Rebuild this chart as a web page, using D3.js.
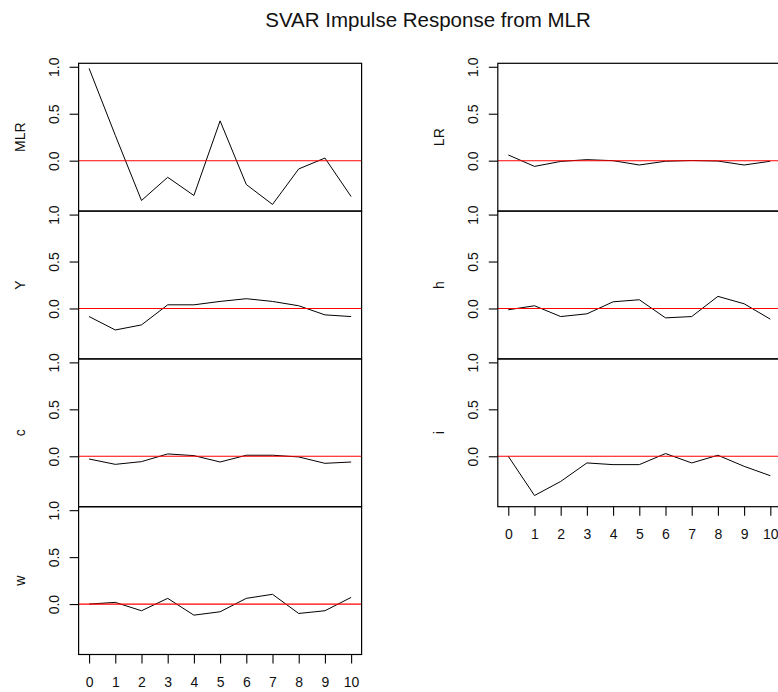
<!DOCTYPE html>
<html>
<head>
<meta charset="utf-8">
<script src="https://cdn.jsdelivr.net/npm/d3@7"></script>
<style>
  html, body { margin: 0; padding: 0; background: #fff; }
  svg { display: block; font-family: "Liberation Sans", Arial, sans-serif; }
</style>
</head>
<body>
<svg id="chart" width="778" height="692"></svg>
<script>
// Impulse horizon (periods after the MLR shock)
const horizon = [0, 1, 2, 3, 4, 5, 6, 7, 8, 9, 10];
const xTicks = [0, 1, 2, 3, 4, 5, 6, 7, 8, 9, 10];
const yTicks = [0, 0.5, 1.0];

// Responses of each variable to a structural MLR shock
const respMLR = [0.983, 0.27, -0.424, -0.177, -0.371, 0.424, -0.254, -0.466, -0.088, 0.028, -0.382];
const respY   = [-0.086, -0.229, -0.175, 0.039, 0.039, 0.075, 0.104, 0.075, 0.029, -0.068, -0.086];
const respC   = [-0.029, -0.086, -0.057, 0.025, 0.007, -0.061, 0.011, 0.011, -0.007, -0.075, -0.061];
const respW   = [0.0, 0.018, -0.071, 0.061, -0.118, -0.082, 0.061, 0.104, -0.1, -0.071, 0.071];
const respLR  = [0.061, -0.061, -0.008, 0.011, 0.0, -0.046, -0.006, 0.002, -0.004, -0.046, -0.006];
const respH   = [-0.014, 0.029, -0.086, -0.057, 0.071, 0.093, -0.1, -0.086, 0.129, 0.05, -0.114];
const respI   = [0.0, -0.418, -0.268, -0.071, -0.089, -0.089, 0.029, -0.071, 0.011, -0.107, -0.207];

const title = "SVAR Impulse Response from MLR";
const leftNames = ["MLR", "Y", "c", "w"];
const leftSeries = [respMLR, respY, respC, respW];
const rightNames = ["LR", "h", "i"];
const rightSeries = [respLR, respH, respI];

const svg = d3.select("#chart");

// layout of the panel grid
const panelTop = 63.3;
const panelH = 147.8;
const panelW = 283;
const colLeft = [78.6, 497.8];
const yDomain = [-0.537, 1.037];
const textColor = "#111";

svg.append("text")
  .attr("x", 428)
  .attr("y", 26.5)
  .attr("text-anchor", "middle")
  .attr("font-size", "20.5px")
  .attr("fill", textColor)
  .text(title);

function drawColumn(colIdx, names, series) {
  const x0 = colLeft[colIdx];
  const x = d3.scaleLinear().domain([-0.4, 10.4]).range([x0, x0 + panelW]);

  names.forEach((name, k) => {
    const top = panelTop + k * panelH;
    const y = d3.scaleLinear().domain(yDomain).range([top + panelH, top]);
    const g = svg.append("g");

    // response path
    const line = d3.line().x((d, i) => x(horizon[i])).y(d => y(d));
    g.append("path")
      .datum(series[k])
      .attr("d", line)
      .attr("fill", "none")
      .attr("stroke", "#000")
      .attr("stroke-width", 1);

    // zero reference line
    g.append("line")
      .attr("x1", x.range()[0]).attr("x2", x.range()[1])
      .attr("y1", y(0)).attr("y2", y(0))
      .attr("stroke", "#ff0000")
      .attr("stroke-width", 1.1);

    // panel box
    g.append("rect")
      .attr("x", x.range()[0]).attr("y", top)
      .attr("width", panelW).attr("height", panelH)
      .attr("fill", "none")
      .attr("stroke", "#000")
      .attr("stroke-width", 1.2);

    // y axis with rotated labels
    const ya = g.append("g")
      .attr("transform", `translate(${x0},0)`)
      .call(d3.axisLeft(y).tickValues(yTicks).tickSize(9).tickSizeOuter(0)
        .tickFormat(d3.format(".1f")));
    ya.select(".domain").remove();
    ya.selectAll(".tick line").attr("stroke", "#000").attr("stroke-width", 1.1);
    ya.selectAll(".tick text")
      .attr("x", null).attr("dy", null)
      .attr("transform", "translate(-24.5,0) rotate(-90)")
      .attr("text-anchor", "middle")
      .attr("dominant-baseline", "central")
      .attr("font-size", "14px")
      .attr("font-family", null)
      .attr("fill", textColor);

    // variable label
    g.append("text")
      .attr("transform", `translate(${x0 - 58.5},${top + panelH / 2}) rotate(-90)`)
      .attr("text-anchor", "middle")
      .attr("dominant-baseline", "central")
      .attr("font-size", "14px")
      .attr("fill", textColor)
      .text(name);

    // x axis below the last panel
    if (k === names.length - 1) {
      const xa = g.append("g")
        .attr("transform", `translate(0,${top + panelH})`)
        .call(d3.axisBottom(x).tickValues(xTicks).tickSize(9).tickSizeOuter(0)
          .tickFormat(d3.format("d")));
      xa.select(".domain").remove();
      xa.selectAll(".tick line").attr("stroke", "#000").attr("stroke-width", 1.1);
      xa.selectAll(".tick text")
        .attr("y", 27).attr("dy", null)
        .attr("dominant-baseline", "central")
        .attr("font-size", "14px")
        .attr("font-family", null)
        .attr("fill", textColor);
    }
  });
}

drawColumn(0, leftNames, leftSeries);
drawColumn(1, rightNames, rightSeries);
</script>
</body>
</html>
